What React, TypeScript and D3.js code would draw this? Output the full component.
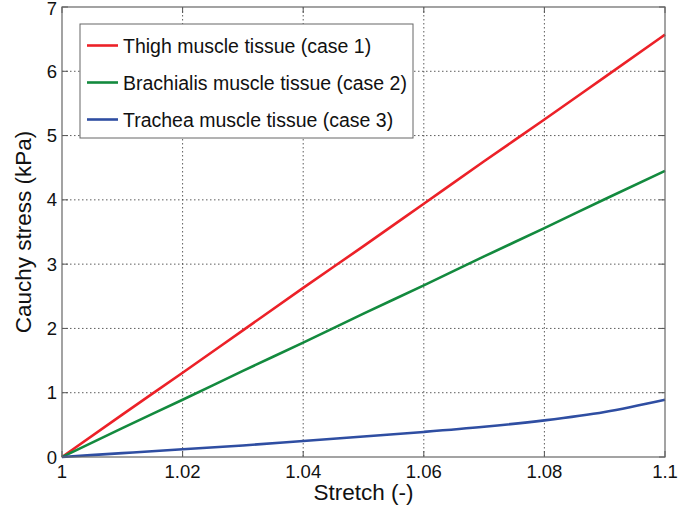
import React from "react";
import * as d3 from "d3";

// Stretch values (-) at which the curves are sampled
const stretch = [1.0, 1.01, 1.02, 1.03, 1.04, 1.05, 1.06, 1.07, 1.08, 1.09, 1.1];
// Cauchy stress (kPa) for each tissue
const thigh = [0, 0.66, 1.31, 1.97, 2.63, 3.28, 3.94, 4.6, 5.25, 5.91, 6.57];
const brachialis = [0, 0.45, 0.89, 1.34, 1.78, 2.23, 2.67, 3.12, 3.56, 4.01, 4.45];
const trachea = [0, 0.06, 0.12, 0.18, 0.25, 0.32, 0.39, 0.47, 0.57, 0.7, 0.89];

const seriesNames = [
  "Thigh muscle tissue (case 1)",
  "Brachialis muscle tissue (case 2)",
  "Trachea muscle tissue (case 3)",
];
const seriesColors = ["#ec2128", "#138a3e", "#2f4ea2"];

const xTicks = [1, 1.02, 1.04, 1.06, 1.08, 1.1];
const yTicks = [0, 1, 2, 3, 4, 5, 6, 7];

const W = 679;
const H = 515;
const plot = { left: 62, right: 665, top: 7, bottom: 457 };
const FONT = "'Liberation Sans', Arial, sans-serif";

export default function App() {
  const x = d3.scaleLinear().domain([1, 1.1]).range([plot.left, plot.right]);
  const y = d3.scaleLinear().domain([0, 7]).range([plot.bottom, plot.top]);
  const line = d3
    .line<number>()
    .x((_, i) => x(stretch[i]))
    .y((d) => y(d))
    .curve(d3.curveMonotoneX);
  const series = [thigh, brachialis, trachea];
  const fmt = (v: number) => (v === 1 ? "1" : v === 1.1 ? "1.1" : v.toFixed(2));

  return (
    <svg width={W} height={H} style={{ position: "absolute", left: 0, top: 0 }}>
      <rect x={0} y={0} width={W} height={H} fill="#fff" />
      {/* grid */}
      {xTicks.slice(1, -1).map((t) => (
        <line key={"gx" + t} x1={x(t)} x2={x(t)} y1={plot.top} y2={plot.bottom}
          stroke="#333" strokeWidth={0.8} strokeDasharray="1.5,2.5" />
      ))}
      {yTicks.slice(1, -1).map((t) => (
        <line key={"gy" + t} x1={plot.left} x2={plot.right} y1={y(t)} y2={y(t)}
          stroke="#333" strokeWidth={0.8} strokeDasharray="1.5,2.5" />
      ))}
      {/* ticks */}
      {xTicks.map((t) => (
        <g key={"tx" + t}>
          <line x1={x(t)} x2={x(t)} y1={plot.bottom} y2={plot.bottom - 6} stroke="#555" />
          <line x1={x(t)} x2={x(t)} y1={plot.top} y2={plot.top + 6} stroke="#555" />
          <text x={x(t)} y={478} textAnchor="middle" fontFamily={FONT} fontSize={18.5} fill="#111">
            {fmt(t)}
          </text>
        </g>
      ))}
      {yTicks.map((t) => (
        <g key={"ty" + t}>
          <line x1={plot.left} x2={plot.left + 6} y1={y(t)} y2={y(t)} stroke="#555" />
          <line x1={plot.right} x2={plot.right - 6} y1={y(t)} y2={y(t)} stroke="#555" />
          <text x={57} y={Math.max(y(t) + 6.5, 15)} textAnchor="end" fontFamily={FONT} fontSize={18.5} fill="#111">
            {t}
          </text>
        </g>
      ))}
      {/* data */}
      {series.map((s, i) => (
        <path key={i} d={line(s) || ""} fill="none" stroke={seriesColors[i]} strokeWidth={2.6}
          strokeLinejoin="round" />
      ))}
      {/* frame */}
      <rect x={plot.left} y={plot.top} width={plot.right - plot.left} height={plot.bottom - plot.top}
        fill="none" stroke="#666" strokeWidth={1.2} />
      {/* legend */}
      <rect x={80} y={24} width={333} height={114} fill="#fff" stroke="#666" strokeWidth={1} />
      {seriesNames.map((n, i) => {
        const ly = 45.5 + i * 37;
        return (
          <g key={n}>
            <line x1={87} x2={118} y1={ly} y2={ly} stroke={seriesColors[i]} strokeWidth={2.6} />
            <text x={123} y={ly + 7} fontFamily={FONT} fontSize={19.5} fill="#111">{n}</text>
          </g>
        );
      })}
      {/* axis labels */}
      <text x={(plot.left + plot.right) / 2} y={500} textAnchor="middle" fontFamily={FONT}
        fontSize={22.5} fill="#111">Stretch (-)</text>
      <text transform={`translate(31,${(plot.top + plot.bottom) / 2}) rotate(-90)`} textAnchor="middle"
        fontFamily={FONT} fontSize={22.5} fill="#111">Cauchy stress (kPa)</text>
    </svg>
  );
}
